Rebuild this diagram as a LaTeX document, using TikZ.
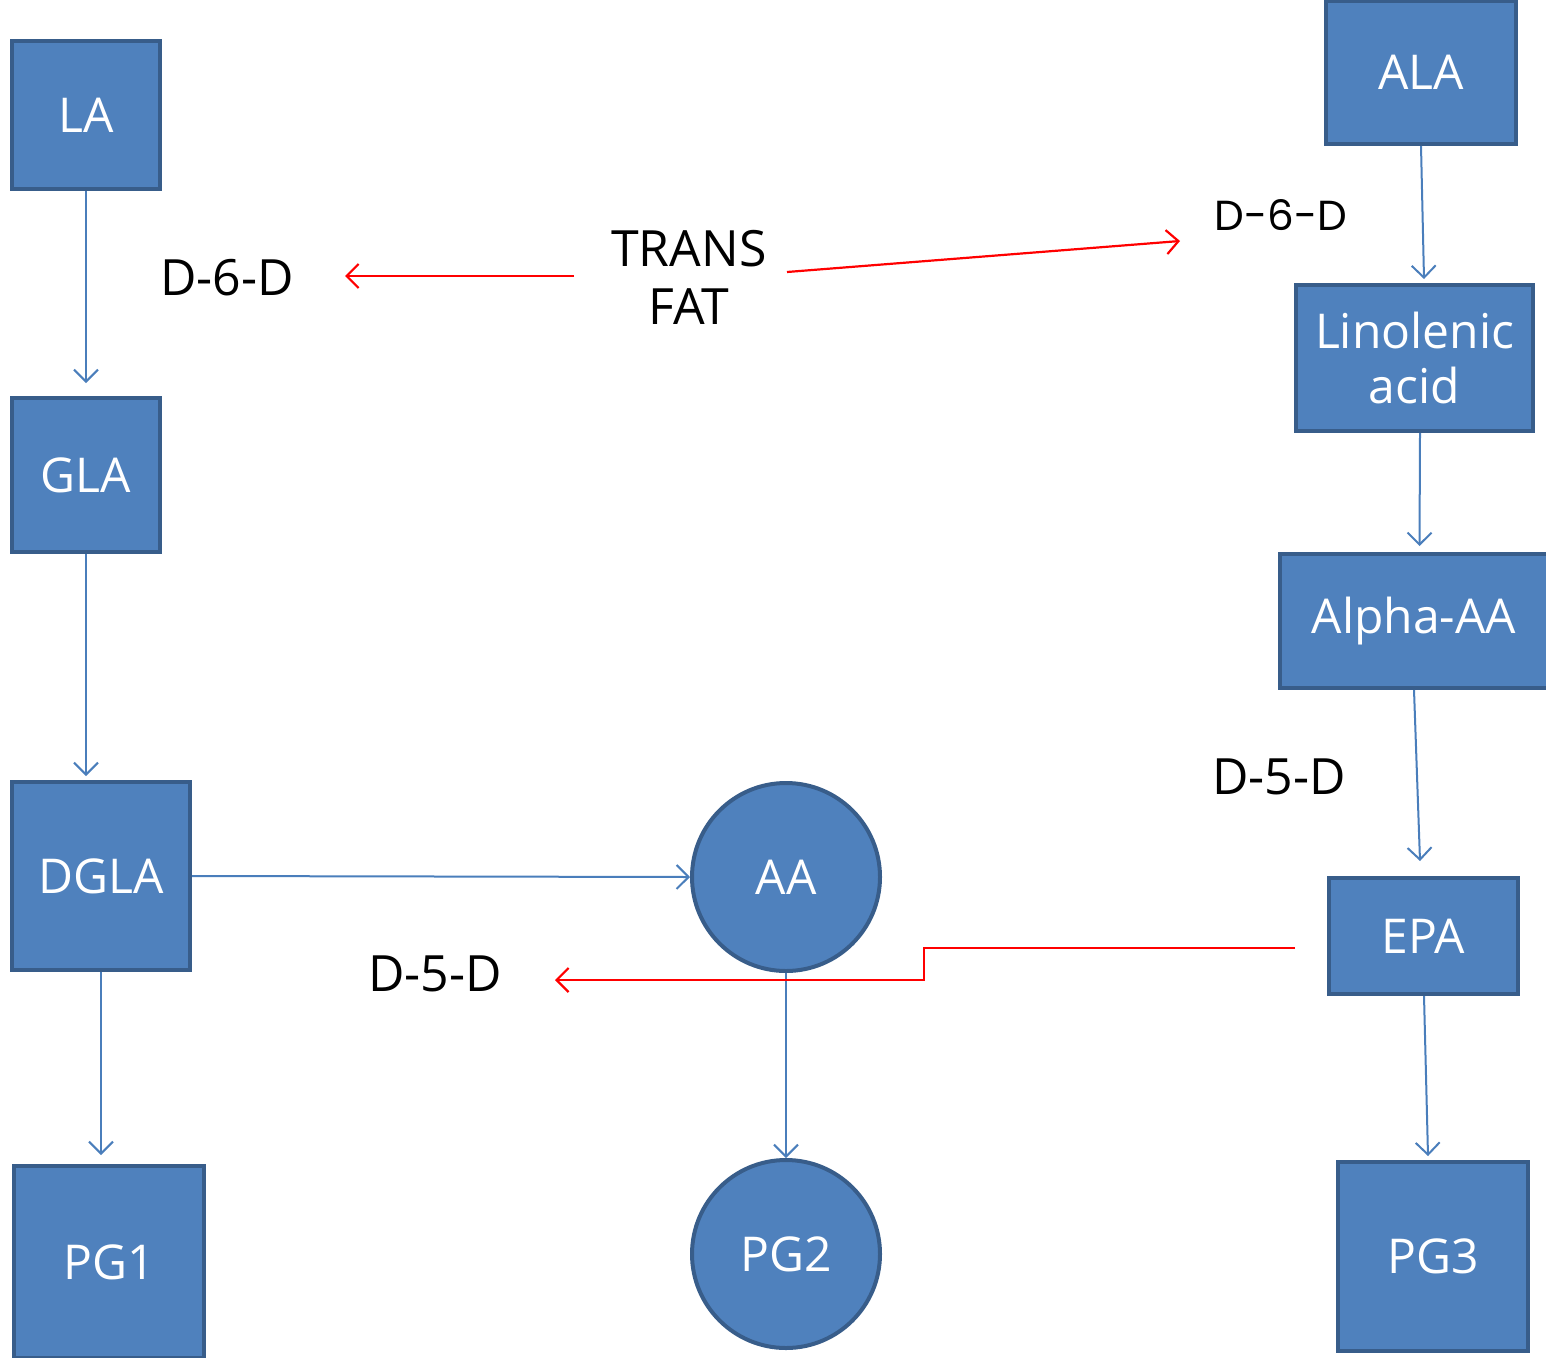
\documentclass[tikz,border=0pt]{standalone}
\usepackage{fontspec}
\setmainfont{Open Sans}
\newfontfamily\geofont{Poppins}
\usetikzlibrary{arrows.meta,calc}
\definecolor{boxfill}{HTML}{4F81BD}
\definecolor{boxline}{HTML}{385D8A}
\definecolor{conn}{HTML}{4A7EBB}
\begin{document}
\begin{tikzpicture}[x=1pt,y=-1pt,
  box/.style={rectangle, draw=boxline, fill=boxfill, line width=4pt, text=white, font=\fontsize{48}{56}\selectfont, align=center, inner sep=0pt},
  circ/.style={circle, draw=boxline, fill=boxfill, line width=4pt, text=white, font=\fontsize{48}{56}\selectfont, inner sep=0pt, minimum size=188pt},
  lbl/.style={text=black, font=\fontsize{50}{58}\selectfont, align=center, inner sep=0pt},
  bluearrow/.style={draw=conn, line width=2pt, -{Straight Barb[length=12pt,width=24pt,line width=2pt]}},
  redarrow/.style={draw=red, line width=2.2pt, -{Straight Barb[length=12pt,width=24pt,line width=2.2pt]}}]
\useasboundingbox (0,0) rectangle (1546,1357);
% boxes
\node[box, minimum width=148pt, minimum height=148pt] (LA) at (86,115) {LA};
\node[box, minimum width=148pt, minimum height=154pt] (GLA) at (86,475) {GLA};
\node[box, minimum width=178pt, minimum height=188pt] (DGLA) at (101,876) {DGLA};
\node[box, minimum width=190pt, minimum height=192pt] (PG1) at (109,1262) {PG1};
\node[circ] (AA) at (786,877) {AA};
\node[circ] (PG2) at (786,1254) {PG2};
\node[box, minimum width=190pt, minimum height=143pt] (ALA) at (1421,72.5) {ALA};
\node[box, minimum width=237pt, minimum height=146pt] (LIN) at (1414.5,358) {Linolenic\\[-1pt]acid};
\node[box, minimum width=268pt, minimum height=134pt] (AAA) at (1414,621) {Alpha-AA};
\node[box, minimum width=189pt, minimum height=116pt] (EPA) at (1423.5,936) {EPA};
\node[box, minimum width=190pt, minimum height=189pt] (PG3) at (1433,1256.5) {PG3};
% labels
\node[lbl] (D6L) at (227,278) {D-6-D};
\node[lbl] (TF) at (689,277) {TRANS\\[0pt]FAT};
\node[text=black, font=\geofont\fontsize{42}{48}\selectfont, inner sep=0pt] (D6R) at (1281,215) {D-6-D};
\node[lbl] (D5R) at (1279,777) {D-5-D};
\node[lbl] (D5L) at (435,974) {D-5-D};
% blue connectors
\draw[bluearrow] (LA.south) -- ([yshift=13pt]GLA.north);
\draw[bluearrow] (GLA.south) -- ([yshift=4pt]DGLA.north -| GLA.south);
\draw[bluearrow] (DGLA.south) -- ([yshift=9pt]PG1.north -| DGLA.south);
\draw[bluearrow] (DGLA.east) -- (AA.west);
\draw[bluearrow] (AA.south) -- (PG2.north);
\draw[bluearrow] (ALA.south) -- ([xshift=9.5pt,yshift=4pt]LIN.north);
\draw[bluearrow] ([xshift=5.5pt]LIN.south) -- ([xshift=5.5pt,yshift=6pt]AAA.north);
\draw[bluearrow] (AAA.south) -- ([xshift=-3.5pt,yshift=15pt]EPA.north);
\draw[bluearrow] ([xshift=0.5pt]EPA.south) -- ([xshift=-5pt,yshift=4pt]PG3.north);
% red connectors
\coordinate (tfl) at (574,276);
\coordinate (tfle) at (345,276);
\coordinate (tfr) at (787,272);
\coordinate (tfre) at (1180,241);
\draw[redarrow] (tfl) -- (tfle);
\draw[redarrow] (tfr) -- (tfre);
\coordinate (epal) at (1295,948);
\coordinate (stepa) at (924,948);
\coordinate (stepb) at (924,980);
\coordinate (d5e) at (555,980);
\draw[redarrow] (epal) -- (stepa) -- (stepb) -- (d5e);
\end{tikzpicture}
\end{document}
